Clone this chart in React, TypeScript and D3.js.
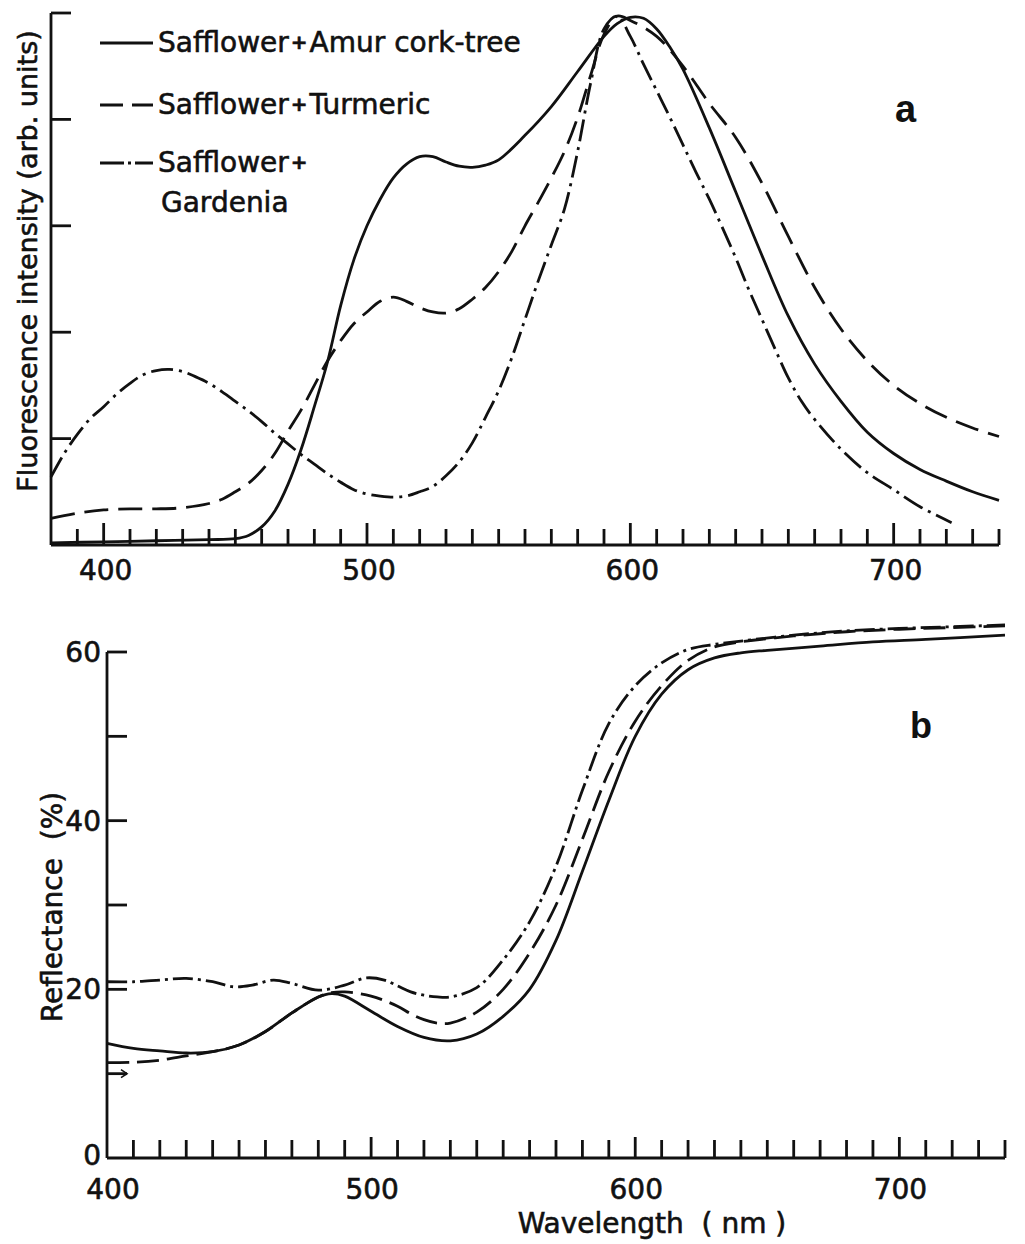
import React from "react";
import * as d3 from "d3";

// ---------- Data (wavelength nm, value) ----------
// Panel a: fluorescence intensity (arb. units)
const fluorAmur: [number, number][] = [
  [380, 0.02], [400, 0.03], [420, 0.04], [440, 0.05], [450, 0.06], [455, 0.09], [460, 0.17],
  [465, 0.32], [470, 0.57], [475, 0.9], [480, 1.3], [485, 1.72], [490, 2.25], [495, 2.68],
  [500, 3.0], [505, 3.25], [510, 3.45], [515, 3.58], [520, 3.65], [525, 3.65], [530, 3.6],
  [535, 3.56], [540, 3.55], [545, 3.57], [550, 3.62], [560, 3.85], [570, 4.12], [580, 4.45],
  [590, 4.78], [595, 4.9], [600, 4.96], [605, 4.95], [610, 4.85], [615, 4.68], [620, 4.47],
  [630, 3.92], [640, 3.32], [650, 2.72], [660, 2.15], [670, 1.7], [680, 1.35], [690, 1.06],
  [700, 0.86], [710, 0.71], [720, 0.6], [730, 0.5], [740, 0.42],
];
const fluorTurmeric: [number, number][] = [
  [380, 0.25], [390, 0.3], [400, 0.33], [410, 0.34], [420, 0.34], [430, 0.35], [440, 0.39],
  [445, 0.43], [450, 0.5], [455, 0.58], [460, 0.7], [465, 0.86], [470, 1.07], [475, 1.27],
  [480, 1.5], [485, 1.73], [490, 1.92], [495, 2.08], [500, 2.19], [505, 2.29], [510, 2.33],
  [515, 2.29], [520, 2.23], [525, 2.19], [530, 2.18], [535, 2.22], [540, 2.31], [545, 2.42],
  [550, 2.57], [555, 2.76], [560, 3.0], [565, 3.22], [570, 3.45], [575, 3.7], [580, 4.02],
  [585, 4.42], [590, 4.8], [595, 4.97], [600, 4.93], [610, 4.78], [620, 4.5], [630, 4.15],
  [640, 3.83], [650, 3.4], [660, 2.9], [670, 2.42], [680, 2.03], [690, 1.73], [700, 1.5],
  [710, 1.33], [720, 1.2], [730, 1.1], [740, 1.02],
];
const fluorGardenia: [number, number][] = [
  [380, 0.64], [385, 0.86], [390, 1.04], [395, 1.19], [400, 1.3], [405, 1.42], [410, 1.52],
  [415, 1.6], [420, 1.64], [425, 1.65], [430, 1.63], [435, 1.58], [440, 1.52], [445, 1.44],
  [450, 1.35], [455, 1.26], [460, 1.16], [465, 1.05], [470, 0.95], [475, 0.85], [480, 0.76],
  [485, 0.67], [490, 0.59], [495, 0.52], [500, 0.48], [505, 0.46], [510, 0.45], [515, 0.46],
  [520, 0.5], [525, 0.55], [530, 0.65], [535, 0.78], [540, 0.96], [545, 1.2], [550, 1.45],
  [555, 1.76], [560, 2.12], [565, 2.48], [570, 2.82], [575, 3.16], [580, 3.7], [585, 4.35],
  [590, 4.85], [595, 4.97], [600, 4.78], [605, 4.52], [610, 4.27], [615, 4.02], [620, 3.76],
  [625, 3.5], [630, 3.25], [635, 2.98], [640, 2.7], [645, 2.4], [650, 2.12], [655, 1.84],
  [660, 1.57], [665, 1.35], [670, 1.18], [680, 0.9], [690, 0.68], [700, 0.52], [710, 0.36],
  [722, 0.21],
];

// Panel b: reflectance (%)
const reflAmur: [number, number][] = [
  [400, 13.6], [410, 13.0], [420, 12.7], [430, 12.45], [440, 12.6], [450, 13.4], [460, 15.0],
  [470, 17.2], [480, 19.1], [485, 19.5], [490, 19.2], [500, 17.4], [510, 15.6], [520, 14.3],
  [530, 13.9], [540, 14.7], [550, 16.8], [560, 20.0], [570, 25.8], [580, 34.0], [590, 42.4],
  [600, 50.0], [610, 55.0], [620, 57.9], [630, 59.3], [640, 59.9], [650, 60.2], [670, 60.7],
  [690, 61.2], [710, 61.5], [740, 62.0],
];
const reflTurmeric: [number, number][] = [
  [400, 11.3], [410, 11.35], [420, 11.6], [430, 12.1], [440, 12.6], [450, 13.4], [460, 15.0],
  [470, 17.2], [480, 19.1], [485, 19.6], [490, 19.7], [500, 19.2], [510, 18.0], [515, 17.1],
  [520, 16.4], [525, 16.0], [530, 16.0], [540, 17.3], [550, 20.0], [560, 24.3], [570, 30.0],
  [580, 37.8], [590, 45.8], [600, 51.8], [610, 56.0], [620, 59.0], [630, 60.6], [640, 61.2],
  [660, 61.9], [680, 62.4], [700, 62.7], [720, 62.9], [740, 63.1],
];
const reflGardenia: [number, number][] = [
  [400, 20.9], [410, 20.9], [420, 21.1], [430, 21.3], [440, 20.9], [448, 20.3], [455, 20.5],
  [463, 21.1], [470, 20.7], [480, 19.9], [490, 20.5], [498, 21.35], [505, 21.1], [510, 20.4],
  [515, 19.7], [520, 19.3], [525, 19.1], [530, 19.1], [540, 20.2], [550, 23.5], [560, 28.0],
  [570, 34.6], [580, 43.6], [590, 51.5], [600, 56.0], [610, 58.7], [620, 60.3], [630, 60.9],
  [640, 61.3], [660, 62.0], [680, 62.5], [700, 62.8], [720, 63.0], [740, 63.2],
];

const xTickLabels = [400, 500, 600, 700];
const aYTicks = [1, 2, 3, 4, 5];
const bYTicks = [10, 20, 30, 40, 50, 60];
const bYLabels = [0, 20, 40, 60];

const legendItems = [
  { lines: ["Safflower", "Amur cork-tree"], dash: "none" },
  { lines: ["Safflower", "Turmeric"], dash: "23 9" },
  { lines: ["Safflower", ""], dash: "24 4 3 4" },
];

const INK = "#111";
const FONT = "DejaVu Sans";
const TXT = { fill: INK, stroke: INK, strokeWidth: 0.6 };

export default function App() {
  // Panel a scales
  const xa = d3.scaleLinear().domain([380, 740]).range([51, 999]);
  const ya = d3.scaleLinear().domain([0, 5]).range([545, 13]);
  // Panel b scales
  const xb = d3.scaleLinear().domain([400, 740]).range([107, 1005]);
  const yb = d3.scaleLinear().domain([0, 60]).range([1158, 652]);

  const lineA = d3
    .line<[number, number]>()
    .x((d) => xa(d[0]))
    .y((d) => ya(d[1]))
    .curve(d3.curveCatmullRom.alpha(0.5));
  const lineB = d3
    .line<[number, number]>()
    .x((d) => xb(d[0]))
    .y((d) => yb(d[1]))
    .curve(d3.curveCatmullRom.alpha(0.5));

  const aXTicks = d3.range(390, 741, 10);
  const bXTicks = d3.range(410, 741, 10);

  const sw = 2.8;

  return (
    <svg
      width={1025}
      height={1244}
      viewBox="0 0 1025 1244"
      style={{ position: "absolute", left: 0, top: 0, background: "#fff" }}
      fontFamily={FONT}
    >
      <rect x={0} y={0} width={1025} height={1244} fill="#fff" />

      {/* ================= Panel a ================= */}
      <g stroke={INK} strokeWidth={2.8} fill="none" strokeLinecap="butt">
        <line x1={xa(380)} y1={ya(0)} x2={xa(740)} y2={ya(0)} />
        <line x1={xa(380)} y1={ya(0)} x2={xa(380)} y2={ya(5)} />
        {aXTicks.map((t) => (
          <line
            key={"ax" + t}
            x1={xa(t)}
            x2={xa(t)}
            y1={ya(0)}
            y2={ya(0) - (t % 100 === 0 ? 22 : 16)}
          />
        ))}
        {aYTicks.map((t) => (
          <line key={"ay" + t} x1={xa(380)} x2={xa(380) + 20} y1={ya(t)} y2={ya(t)} />
        ))}
      </g>
      <g fontSize={28} {...TXT} textAnchor="middle">
        {xTickLabels.map((t) => (
          <text key={"axl" + t} x={xa(t) + 2} y={580}>
            {t}
          </text>
        ))}
      </g>
      <text
        transform="translate(37,261) rotate(-90)"
        textAnchor="middle"
        fontSize={27}
        {...TXT}
      >
        Fluorescence intensity (arb. units)
      </text>

      <g fill="none" stroke={INK} strokeWidth={sw}>
        <path d={lineA(fluorAmur) || ""} />
        <path d={lineA(fluorTurmeric) || ""} strokeDasharray="24 10" />
        <path d={lineA(fluorGardenia) || ""} strokeDasharray="22 6 3 6" />
      </g>

      {/* legend */}
      <g>
        {legendItems.map((it, i) => {
          const yl = [43, 105, 163][i];
          const yt = [52, 114, 172][i];
          return (
            <g key={"lg" + i}>
              <line
                x1={100}
                x2={153}
                y1={yl}
                y2={yl}
                stroke={INK}
                strokeWidth={sw}
                strokeDasharray={it.dash}
              />
              <text x={158} y={yt} fontSize={28} {...TXT}>
                {it.lines[0]}
                <tspan fontSize={20} fontWeight="bold" dx={2} dy={-3}>
                  +
                </tspan>
                <tspan dx={2} dy={3}>
                  {it.lines[1]}
                </tspan>
              </text>
            </g>
          );
        })}
        <text x={161} y={212} fontSize={28} {...TXT}>
          Gardenia
        </text>
      </g>
      <text x={895} y={122} fontSize={38} fontWeight="bold" fontFamily="Liberation Sans" fill={INK}>
        a
      </text>

      {/* ================= Panel b ================= */}
      <g stroke={INK} strokeWidth={2.8} fill="none">
        <line x1={xb(400)} y1={yb(0)} x2={xb(740)} y2={yb(0)} />
        <line x1={xb(400)} y1={yb(0)} x2={xb(400)} y2={yb(60)} />
        {bXTicks.map((t) => (
          <line
            key={"bx" + t}
            x1={xb(t)}
            x2={xb(t)}
            y1={yb(0)}
            y2={yb(0) - (t % 100 === 0 ? 21 : 18)}
          />
        ))}
        {bYTicks.map((t) => (
          <line key={"by" + t} x1={xb(400)} x2={xb(400) + 20} y1={yb(t)} y2={yb(t)} />
        ))}
        {/* small arrow head on the 10 % tick */}
        <path
          d={`M${xb(400) + 14},${yb(10) - 4} L${xb(400) + 20},${yb(10)} L${xb(400) + 14},${yb(10) + 4}`}
          strokeWidth={1.6}
        />
      </g>
      <g fontSize={28} {...TXT} textAnchor="end">
        {bYLabels.map((t) => (
          <text key={"byl" + t} x={101} y={yb(t) + (t === 0 ? 7 : 10)}>
            {t}
          </text>
        ))}
      </g>
      <g fontSize={28} {...TXT} textAnchor="middle">
        {xTickLabels.map((t) => (
          <text key={"bxl" + t} x={xb(t) + (t === 400 ? 6 : 1)} y={1199}>
            {t}
          </text>
        ))}
      </g>
      <text
        transform="translate(62,907) rotate(-90)"
        textAnchor="middle"
        fontSize={28}
        {...TXT}
        style={{ whiteSpace: "pre" }}
      >
        {"Reflectance  (%)"}
      </text>
      <text
        x={652}
        y={1233}
        textAnchor="middle"
        fontSize={28}
        {...TXT}
        style={{ whiteSpace: "pre" }}
      >
        {"Wavelength  ( nm )"}
      </text>

      <g fill="none" stroke={INK} strokeWidth={sw}>
        <path d={lineB(reflAmur) || ""} />
        <path d={lineB(reflTurmeric) || ""} strokeDasharray="22 8" />
        <path d={lineB(reflGardenia) || ""} strokeDasharray="20 5 3 5" />
      </g>
      <text x={910} y={738} fontSize={36} fontWeight="bold" fontFamily="Liberation Sans" fill={INK}>
        b
      </text>
    </svg>
  );
}
